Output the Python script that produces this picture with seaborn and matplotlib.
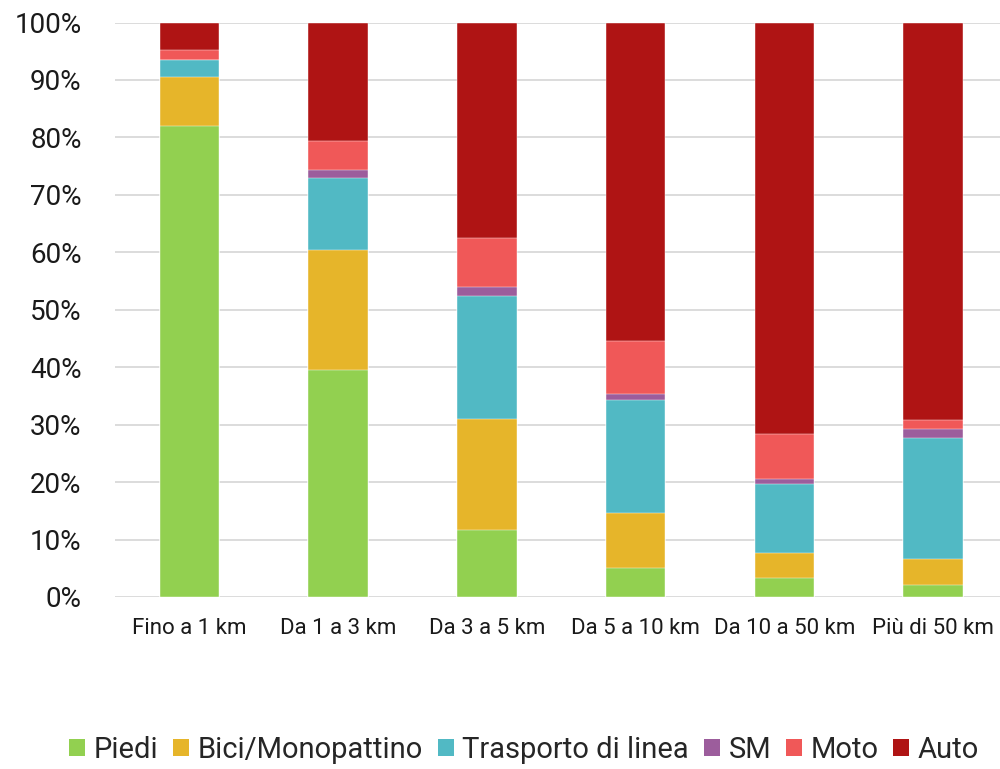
import matplotlib
matplotlib.use("Agg")
import matplotlib.pyplot as plt
import seaborn as sns
import pandas as pd
import numpy as np
from matplotlib.patches import Patch

categories = ["Fino a 1 km", "Da 1 a 3 km", "Da 3 a 5 km", "Da 5 a 10 km", "Da 10 a 50 km", "Più di 50 km"]
series_names = ["Piedi", "Bici/Monopattino", "Trasporto di linea", "SM", "Moto", "Auto"]
piedi = [82.0, 39.5, 11.7, 5.1, 3.3, 2.0]
bici = [8.6, 20.9, 19.3, 9.5, 4.3, 4.6]
trasporto = [2.9, 12.6, 21.4, 19.7, 12.0, 21.1]
sm = [0.0, 1.3, 1.5, 1.0, 1.0, 1.5]
moto = [1.8, 5.1, 8.6, 9.3, 7.7, 1.6]
auto = [4.7, 20.6, 37.5, 55.4, 71.7, 69.2]
colors = ["#92D050", "#E6B52A", "#51B9C4", "#9C5D9C", "#F05858", "#AF1414"]
yticklabels = ["0%", "10%", "20%", "30%", "40%", "50%", "60%", "70%", "80%", "90%", "100%"]

sns.set_theme(style="white")
plt.rcParams["font.family"] = ["Roboto", "DejaVu Sans"]

fig = plt.figure(figsize=(10, 7.69), dpi=100)
ax = fig.add_axes([0.115, 0.2237, 0.885, 0.747])

values = [piedi, bici, trasporto, sm, moto, auto]
cum = np.cumsum(np.array(values), axis=0)
# draw from top layer down so lower layers overlay
for i in range(len(series_names) - 1, -1, -1):
    df = pd.DataFrame({"cat": categories, "val": cum[i] / 100.0})
    sns.barplot(data=df, x="cat", y="val", color=colors[i], width=0.4,
                saturation=1, ax=ax, zorder=3, order=categories,
                edgecolor="white", linewidth=0.3)

ax.set_xlim(-0.5, 5.45)
ax.set_ylim(0, 1.0)
ax.set_yticks(np.linspace(0, 1, 11))
ax.set_yticklabels(yticklabels, fontsize=20, color="#1a1a1a")
ax.tick_params(axis="y", length=0, pad=24)
ax.tick_params(axis="x", length=0, pad=15, labelsize=16, labelcolor="#1a1a1a")
ax.yaxis.grid(True, color="#D9D9D9", linewidth=1.3, zorder=0)
ax.set_axisbelow(True)
ax.set_xlabel("")
ax.set_ylabel("")
for s in ax.spines.values():
    s.set_visible(False)

handles = [Patch(facecolor=c, edgecolor="none", label=n) for c, n in zip(colors, series_names)]
fig.legend(handles=handles, loc="center", bbox_to_anchor=(0.524, 0.0247), ncol=6,
           frameon=False, fontsize=21, handlelength=0.55, handleheight=0.55,
           handletextpad=0.3, columnspacing=0.5)

fig.savefig("out.png", dpi=100)
